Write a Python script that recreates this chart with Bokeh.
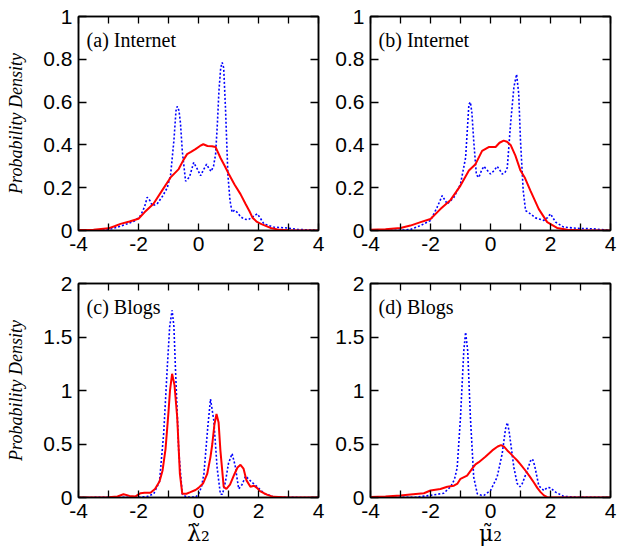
from bokeh.plotting import figure
from bokeh.layouts import row, column
from bokeh.models import Range1d, FixedTicker, LinearAxis, NumeralTickFormatter, Label
from bokeh.embed import file_html
from bokeh.resources import INLINE

# ---------------- data ----------------
x_ticks = [-4, -2, 0, 2, 4]
x_minor_ticks = [-3, -1, 1, 3]
x_all_ticks = [-4, -3, -2, -1, 0, 1, 2, 3, 4]
y_ticks_internet = [0, 0.2, 0.4, 0.6, 0.8, 1]
y_ticks_blogs = [0, 0.5, 1, 1.5, 2]
x_tick_labels = {-4: "-4", -2: "-2", 0: "0", 2: "2", 4: "4"}

panel_titles = ["(a) Internet", "(b) Internet", "(c) Blogs", "(d) Blogs"]
x_labels = ["λ̃₂", "μ̃₂"]
y_label = "Probability Density"

# (a) Internet, lambda2
red_a_x = [-4.0, -3.5, -3.0, -2.8, -2.6, -2.3, -2.0, -1.8, -1.5, -1.2, -0.93, -0.66, -0.5, -0.38, -0.25,
           -0.1, 0.05, 0.16, 0.3, 0.45, 0.57, 0.73, 0.88, 1.01, 1.2, 1.4, 1.57, 1.7, 1.8, 1.95, 2.1, 2.4,
           2.7, 3.0, 4.0]
red_a_y = [0.002, 0.004, 0.01, 0.02, 0.031, 0.042, 0.055, 0.085, 0.125, 0.19, 0.248, 0.287, 0.33, 0.357,
           0.367, 0.38, 0.395, 0.403, 0.395, 0.394, 0.39, 0.34, 0.3, 0.264, 0.215, 0.17, 0.124, 0.09, 0.06,
           0.04, 0.03, 0.012, 0.003, 0.001, 0.0]
blue_a_x = [-4, -3.2, -2.9, -2.6, -2.3, -2.1, -1.93, -1.8, -1.71, -1.62, -1.54, -1.38, -1.2, -1.04, -0.93,
            -0.82, -0.75, -0.71, -0.65, -0.6, -0.54, -0.43, -0.3, -0.16, -0.05, 0.07, 0.17, 0.27, 0.35,
            0.42, 0.5, 0.57, 0.63, 0.68, 0.74, 0.79, 0.84, 0.9, 0.98, 1.05, 1.12, 1.2, 1.29, 1.4, 1.51,
            1.65, 1.79, 1.96, 2.05, 2.18, 2.5, 2.95, 3.3, 3.7, 4]
blue_a_y = [0, 0.002, 0.008, 0.02, 0.035, 0.047, 0.07, 0.11, 0.155, 0.14, 0.116, 0.124, 0.16, 0.2, 0.26,
            0.42, 0.56, 0.58, 0.56, 0.5, 0.37, 0.23, 0.25, 0.318, 0.29, 0.256, 0.285, 0.31, 0.29, 0.276,
            0.3, 0.357, 0.5, 0.65, 0.76, 0.785, 0.76, 0.57, 0.26, 0.14, 0.085, 0.095, 0.085, 0.065, 0.054,
            0.05, 0.062, 0.078, 0.06, 0.031, 0.016, 0.012, 0.005, 0.003, 0]

# (b) Internet, mu2
red_b_x = [-4, -3.5, -3.0, -2.67, -2.33, -2.0, -1.67, -1.33, -1.0, -0.72, -0.5, -0.28, -0.06, 0.17, 0.3,
           0.44, 0.55, 0.67, 0.83, 1.0, 1.15, 1.33, 1.61, 1.89, 2.22, 2.56, 3.0, 4]
red_b_y = [0.003, 0.006, 0.012, 0.023, 0.039, 0.054, 0.1, 0.143, 0.21, 0.28, 0.31, 0.372, 0.39, 0.39,
           0.41, 0.42, 0.415, 0.4, 0.35, 0.28, 0.245, 0.186, 0.1, 0.039, 0.012, 0.004, 0.001, 0]
blue_b_x = [-4, -3.0, -2.67, -2.33, -2.0, -1.78, -1.61, -1.44, -1.22, -1.0, -0.83, -0.72, -0.67, -0.62,
            -0.56, -0.47, -0.39, -0.3, -0.22, -0.1, 0.0, 0.12, 0.22, 0.3, 0.39, 0.48, 0.56, 0.67, 0.78,
            0.87, 0.94, 1.0, 1.09, 1.17, 1.33, 1.5, 1.78, 1.9, 2.0, 2.17, 2.44, 2.9, 3.4, 3.8, 4]
blue_b_y = [0, 0.001, 0.005, 0.023, 0.047, 0.108, 0.163, 0.124, 0.155, 0.217, 0.34, 0.59, 0.6, 0.55,
            0.42, 0.26, 0.248, 0.28, 0.3, 0.28, 0.264, 0.28, 0.3, 0.285, 0.264, 0.27, 0.294, 0.5, 0.67,
            0.73, 0.64, 0.42, 0.186, 0.093, 0.078, 0.059, 0.047, 0.06, 0.078, 0.039, 0.016, 0.01, 0.008,
            0.003, 0]

# (c) Blogs, lambda2
red_c_x = [-4, -3.0, -2.7, -2.5, -2.3, -2.1, -1.93, -1.8, -1.6, -1.45, -1.3, -1.2, -1.1, -1.0, -0.95,
           -0.88, -0.8, -0.71, -0.62, -0.54, -0.4, -0.27, -0.1, 0.0, 0.15, 0.29, 0.4, 0.46, 0.53, 0.6,
           0.67, 0.73, 0.84, 0.93, 1.05, 1.2, 1.3, 1.4, 1.5, 1.6, 1.73, 1.85, 1.95, 2.05, 2.18, 2.3, 2.5,
           3, 4]
red_c_y = [0, 0.003, 0.01, 0.03, 0.015, 0.01, 0.04, 0.045, 0.045, 0.08, 0.15, 0.25, 0.45, 0.8, 1.0,
           1.156, 1.05, 0.75, 0.22, 0.035, 0.035, 0.05, 0.07, 0.09, 0.13, 0.22, 0.38, 0.5, 0.68, 0.78,
           0.7, 0.44, 0.1, 0.08, 0.12, 0.22, 0.28, 0.305, 0.27, 0.16, 0.1, 0.11, 0.09, 0.06, 0.04, 0.025,
           0.006, 0.001, 0]
blue_c_x = [-4, -2.0, -1.7, -1.49, -1.3, -1.16, -1.04, -0.96, -0.88, -0.82, -0.77, -0.66, -0.54, -0.4,
            -0.1, 0.0, 0.1, 0.18, 0.31, 0.4, 0.51, 0.62, 0.73, 0.8, 0.9, 1.0, 1.12, 1.22, 1.34, 1.45,
            1.57, 1.68, 1.79, 1.96, 2.18, 2.5, 3, 4]
blue_c_y = [0, 0.003, 0.01, 0.035, 0.15, 0.6, 1.22, 1.6, 1.75, 1.6, 1.22, 0.44, 0.03, 0.005, 0.003,
            0.03, 0.1, 0.22, 0.66, 0.92, 0.72, 0.28, 0.03, 0.03, 0.15, 0.32, 0.41, 0.3, 0.08, 0.12, 0.2,
            0.17, 0.14, 0.1, 0.04, 0.005, 0.001, 0]

# (d) Blogs, mu2
red_d_x = [-4, -3.5, -3.0, -2.67, -2.22, -2.0, -1.67, -1.44, -1.22, -1.1, -1.0, -0.78, -0.61, -0.5,
           -0.39, -0.17, 0.06, 0.24, 0.35, 0.45, 0.56, 0.67, 0.78, 0.89, 1.0, 1.17, 1.3, 1.44, 1.56, 1.67,
           1.78, 1.89, 2.1, 4]
red_d_y = [0.005, 0.01, 0.018, 0.028, 0.04, 0.065, 0.08, 0.1, 0.11, 0.13, 0.175, 0.205, 0.27, 0.31,
           0.33, 0.38, 0.44, 0.477, 0.49, 0.475, 0.44, 0.41, 0.377, 0.346, 0.31, 0.25, 0.2, 0.143, 0.09,
           0.05, 0.02, 0.003, 0, 0]
blue_d_x = [-4, -2.5, -2.0, -1.56, -1.33, -1.2, -1.11, -1.0, -0.89, -0.83, -0.76, -0.67, -0.56, -0.44,
            -0.3, -0.22, 0.0, 0.22, 0.39, 0.5, 0.56, 0.62, 0.7, 0.78, 0.89, 0.98, 1.06, 1.22, 1.33, 1.4,
            1.47, 1.61, 1.78, 1.9, 2.0, 2.17, 2.44, 2.9, 4]
blue_d_y = [0, 0.003, 0.02, 0.04, 0.1, 0.17, 0.28, 0.75, 1.37, 1.545, 1.37, 0.75, 0.19, 0.035, 0.02,
            0.02, 0.065, 0.19, 0.41, 0.64, 0.7, 0.62, 0.45, 0.28, 0.13, 0.1, 0.13, 0.25, 0.34, 0.36, 0.3,
            0.11, 0.065, 0.095, 0.09, 0.05, 0.01, 0.003, 0]

RED = "#FF0000"
BLUE = "#0000FF"
TICK_FONT = "Liberation Sans"
SERIF = "Liberation Serif"


def style_axis(ax, ticker, tick_len, standoff=6, fmt=None, overrides=None):
    ax.ticker = ticker
    if fmt is not None:
        ax.formatter = fmt
    if overrides:
        ax.major_label_overrides = overrides
    ax.major_tick_in = tick_len
    ax.major_tick_out = 0
    ax.minor_tick_in = tick_len
    ax.minor_tick_out = 0
    ax.major_tick_line_color = "black"
    ax.minor_tick_line_color = "black"
    ax.major_tick_line_width = 1.3
    ax.minor_tick_line_width = 1.3
    ax.axis_line_color = "black"
    ax.axis_line_width = 1.5
    ax.major_label_text_font = TICK_FONT
    ax.major_label_text_color = "black"
    ax.major_label_text_font_size = "21px"
    ax.major_label_standoff = standoff


def style_mirror(ax, all_ticks, tick_len):
    # mirror axis: only (unlabelled) minor ticks, pointing inwards
    ax.ticker = FixedTicker(ticks=[], minor_ticks=all_ticks)
    ax.minor_tick_in = tick_len
    ax.minor_tick_out = 0
    ax.minor_tick_line_color = "black"
    ax.minor_tick_line_width = 1.3
    ax.major_tick_line_color = None
    ax.axis_line_color = "black"
    ax.axis_line_width = 1.5
    ax.major_label_standoff = 0


def make_panel(title, yticks, ymax, rx, ry, bx, by, width, height, borders, ylab=None, xlab=None):
    left, right, top, bottom = borders
    p = figure(width=width, height=height, x_range=Range1d(-4, 4), y_range=Range1d(0, ymax),
               output_backend="svg", toolbar_location=None,
               min_border_left=left, min_border_right=right,
               min_border_top=top, min_border_bottom=bottom)
    p.grid.visible = False
    p.outline_line_color = "black"
    p.outline_line_width = 1.5
    p.background_fill_color = "white"
    p.border_fill_color = "white"

    xt = FixedTicker(ticks=x_ticks, minor_ticks=x_minor_ticks)
    yt = FixedTicker(ticks=yticks, minor_ticks=[])
    yfmt = NumeralTickFormatter(format="0.[0]")

    style_axis(p.below[0], xt, 7, standoff=6, overrides=x_tick_labels)
    style_axis(p.left[0], yt, 8, standoff=6, fmt=yfmt)

    top_ax = LinearAxis()
    right_ax = LinearAxis()
    p.add_layout(top_ax, "above")
    p.add_layout(right_ax, "right")
    style_mirror(top_ax, x_all_ticks, 7)
    style_mirror(right_ax, yticks, 8)

    if ylab:
        p.left[0].axis_label = ylab
        p.left[0].axis_label_text_font = SERIF
        p.left[0].axis_label_text_font_style = "italic"
        p.left[0].axis_label_text_font_size = "18px"
        p.left[0].axis_label_text_color = "black"
        p.left[0].axis_label_standoff = 14
    if xlab:
        p.below[0].axis_label = xlab
        p.below[0].axis_label_text_font = "DejaVu Serif"
        p.below[0].axis_label_text_font_style = "normal"
        p.below[0].axis_label_text_font_size = "22px"
        p.below[0].axis_label_text_color = "black"
        p.below[0].axis_label_standoff = 0

    p.line(bx, by, line_color=BLUE, line_width=1.6, line_dash="2 2")
    p.line(rx, ry, line_color=RED, line_width=2)

    p.add_layout(Label(x=-3.73, y=ymax * 0.89, text=title, text_font=SERIF,
                       text_font_size="20px", text_color="black", text_baseline="middle"))
    return p


pa = make_panel(panel_titles[0], y_ticks_internet, 1, red_a_x, red_a_y, blue_a_x, blue_a_y,
                326, 263, (78, 8, 16, 33), ylab=y_label)
pb = make_panel(panel_titles[1], y_ticks_internet, 1, red_b_x, red_b_y, blue_b_x, blue_b_y,
                292, 263, (44, 8, 16, 33))
pc = make_panel(panel_titles[2], y_ticks_blogs, 2, red_c_x, red_c_y, blue_c_x, blue_c_y,
                326, 295, (78, 8, 20, 61), ylab=y_label, xlab=x_labels[0])
pd = make_panel(panel_titles[3], y_ticks_blogs, 2, red_d_x, red_d_y, blue_d_x, blue_d_y,
                292, 295, (44, 8, 20, 61), xlab=x_labels[1])

layout = column(row(pa, pb), row(pc, pd))

open("out.html", "w").write(file_html(layout, INLINE))
